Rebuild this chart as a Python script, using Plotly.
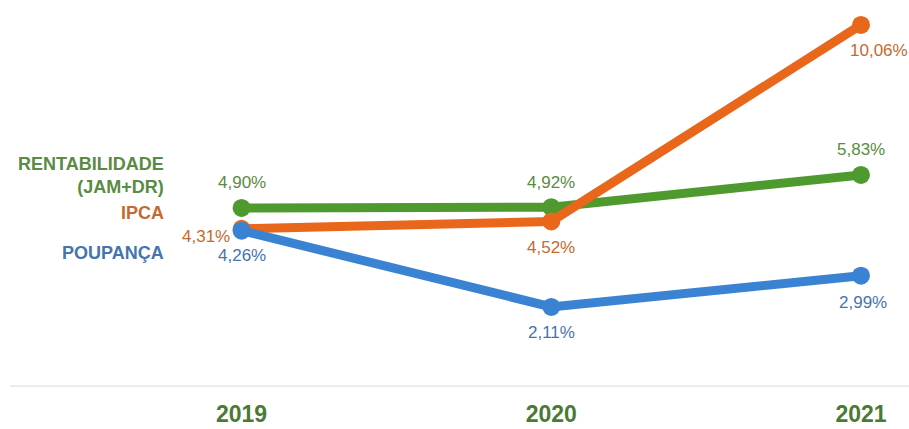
import plotly.graph_objects as go

years = ["2019", "2020", "2021"]
rent = [4.90, 4.92, 5.83]
ipca = [4.31, 4.52, 10.06]
poup = [4.26, 2.11, 2.99]

line_colors = ["#4e9a2e", "#e8671b", "#3a82d2"]
text_colors = ["#5b8a43", "#c46a2e", "#4674ad"]

W, H = 909, 429
T, B = 10, 43
PH = H - T - B
xpos = [0, 1, 2]

def fmt(v):
    return f"{v:.2f}".replace(".", ",") + "%"

def py(pix):
    return 1 - (pix - T) / PH

fig = go.Figure()
for vals, col in zip([rent, ipca, poup], line_colors):
    fig.add_trace(go.Scatter(
        x=xpos, y=vals, mode="lines+markers",
        line=dict(color=col, width=9),
        marker=dict(color=col, size=18),
        hoverinfo="skip", showlegend=False,
    ))

annotations = []
# label offsets (pixels, +down) per series, per point
offsets = {
    0: [(0, -25), (0, -25), (0, -25)],
    1: [(-36, 8), (0, 26), (18, 26)],
    2: [(0, 25), (0, 26), (2, 27)],
}
for si, vals in enumerate([rent, ipca, poup]):
    for pi, v in enumerate(vals):
        dx, dy = offsets[si][pi]
        annotations.append(dict(
            x=xpos[pi], y=v, xref="x", yref="y", text=fmt(v),
            showarrow=True, arrowcolor="rgba(0,0,0,0)", ax=dx, ay=dy,
            font=dict(family="Liberation Sans, Arial", size=17, color=text_colors[si]),
        ))

lab_font = "Liberation Sans, Arial"
annotations.append(dict(x=166 / W, y=py(175), xref="paper", yref="paper",
                        text="<b>RENTABILIDADE</b><br><b>(JAM+DR)</b>", showarrow=False,
                        xanchor="right", yanchor="middle", align="right",
                        font=dict(family=lab_font, size=18, color=text_colors[0])))
annotations.append(dict(x=166 / W, y=py(213), xref="paper", yref="paper",
                        text="<b>IPCA</b>", showarrow=False, xanchor="right", yanchor="middle",
                        font=dict(family=lab_font, size=18, color=text_colors[1])))
annotations.append(dict(x=166 / W, y=py(253), xref="paper", yref="paper",
                        text="<b>POUPANÇA</b>", showarrow=False, xanchor="right", yanchor="middle",
                        font=dict(family=lab_font, size=18, color=text_colors[2])))

fig.update_layout(
    width=W, height=H,
    margin=dict(l=0, r=0, t=T, b=B),
    paper_bgcolor="white", plot_bgcolor="white",
    annotations=annotations,
    shapes=[dict(type="line", xref="paper", yref="paper", x0=10 / W, x1=1, y0=0, y1=0,
                 line=dict(color="#ececec", width=2))],
    xaxis=dict(range=[-0.78, 2.155], tickvals=xpos, ticktext=[f"<b>{y}</b>" for y in years],
               showgrid=False, zeroline=False, showline=False, ticks="",
               tickfont=dict(family="Liberation Sans, Arial", size=23, color="#4b7a34"),
               ticklabelstandoff=12, fixedrange=True),
    yaxis=dict(range=[-0.12, 10.48], visible=False, fixedrange=True),
)

fig.write_html("out.html")
